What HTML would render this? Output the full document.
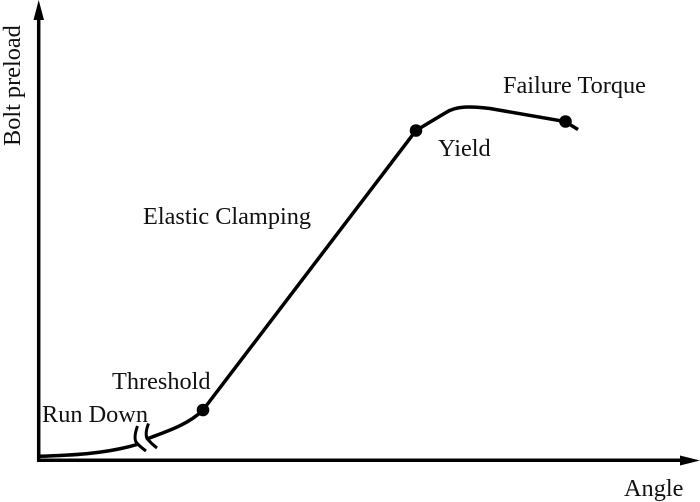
<!DOCTYPE html>
<html><head><meta charset="utf-8"><style>
html,body{margin:0;padding:0;background:#fff}
svg{display:block}
text{font-family:"Liberation Serif",serif;font-size:24.3px;fill:#111}
</style></head><body>
<svg width="700" height="502" viewBox="0 0 700 502" xmlns="http://www.w3.org/2000/svg">
<g fill="none" stroke="#000">
<path d="M38.700 462V14" stroke-width="3.500"/>
<path d="M37 460.300H685" stroke-width="3.500"/>
<path d="M38 456.300C70 455.300 105 454 137 444.500" stroke-width="3.500"/>
<path d="M148 438.500C165 432 188 425 203 410L416 130.500L446 112.500C456 106 470 106 490 108.500L565 121.500L578 129.500" stroke-width="3.500"/>
<path d="M137.500 426C135 433 134.500 439 136 442C138 445 142 448 146 451" stroke-width="3"/>
<path d="M148.500 423.500C146 430 145.500 435 147 438.500C150 442 153 445 157 448" stroke-width="3"/>
</g>
<path d="M38.700 0L44 20H33.500Z" fill="#000"/>
<path d="M700 460.500L680 455.500V465.500Z" fill="#000"/>
<circle cx="203" cy="410" r="6.300" fill="#000"/>
<circle cx="416" cy="130.500" r="6.300" fill="#000"/>
<circle cx="565.500" cy="121.500" r="6.300" fill="#000"/>
<text x="503" y="93">Failure Torque</text>
<text x="438" y="156">Yield</text>
<text x="143" y="224">Elastic Clamping</text>
<text x="112" y="389">Threshold</text>
<text x="42" y="422">Run Down</text>
<text x="624" y="496">Angle</text>
<text transform="translate(20,146) rotate(-90)">Bolt preload</text>
</svg>
</body></html>
